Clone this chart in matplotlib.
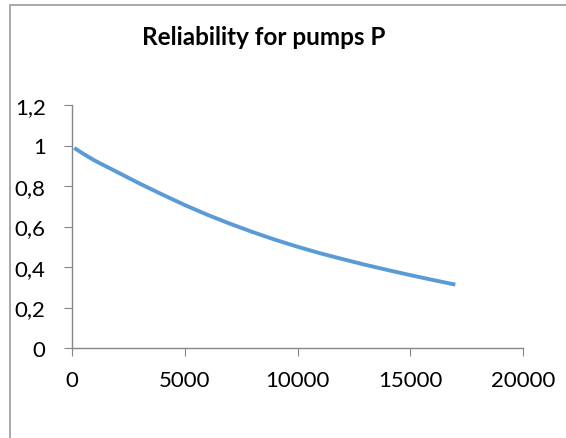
import matplotlib
matplotlib.use("Agg")
from matplotlib import pyplot as plt
from matplotlib.patches import Rectangle
from matplotlib.ticker import FuncFormatter

# hours vs reliability
t_hours = [100, 250, 500, 1000, 2000, 3000, 4000, 5000, 6000, 7000, 8000,
           9000, 10000, 11000, 12000, 13000, 14000, 15000, 16000, 17000]
reliability = [0.988, 0.977, 0.959, 0.926, 0.869, 0.812, 0.758, 0.706, 0.658, 0.614, 0.573,
               0.535, 0.500, 0.468, 0.439, 0.411, 0.385, 0.360, 0.336, 0.313]
x_ticks = [0, 5000, 10000, 15000, 20000]
y_ticks = [0, 0.2, 0.4, 0.6, 0.8, 1.0, 1.2]

plt.rcParams['font.family'] = ['Lato', 'DejaVu Sans']

fig = plt.figure(figsize=(5.66, 4.39), dpi=100)
# chart area frame (runs off the right and bottom edges)
fig.patches.append(Rectangle((10 / 566, -0.1), 1.2, 1 - 6 / 439 + 0.1,
                             transform=fig.transFigure, fill=False,
                             edgecolor='#9a9a9a', linewidth=1.2))

ax = fig.add_axes([72 / 566, 1 - 349 / 439, 451 / 566, 243 / 439])
ax.plot(t_hours, reliability, color='#5B9BD5', linewidth=2.8, solid_capstyle='butt')

ax.set_xlim(0, 20000)
ax.set_ylim(0, 1.2)
ax.set_xticks(x_ticks)
ax.set_yticks(y_ticks)
ax.yaxis.set_major_formatter(FuncFormatter(lambda v, p: f"{v:g}".replace('.', ',')))

for s in ['top', 'right']:
    ax.spines[s].set_visible(False)
for s in ['left', 'bottom']:
    ax.spines[s].set_color('#868686')
    ax.spines[s].set_linewidth(1.0)
ax.tick_params(axis='both', direction='out', color='#868686', labelsize=16, length=6)
ax.tick_params(axis='y', pad=13)
ax.tick_params(axis='x', pad=10)

fig.text(264 / 566, 1 - 45 / 439, "Reliability for pumps P", ha='center', va='baseline',
         fontsize=17.5, fontweight='bold')

fig.savefig("out.png", dpi=100)
